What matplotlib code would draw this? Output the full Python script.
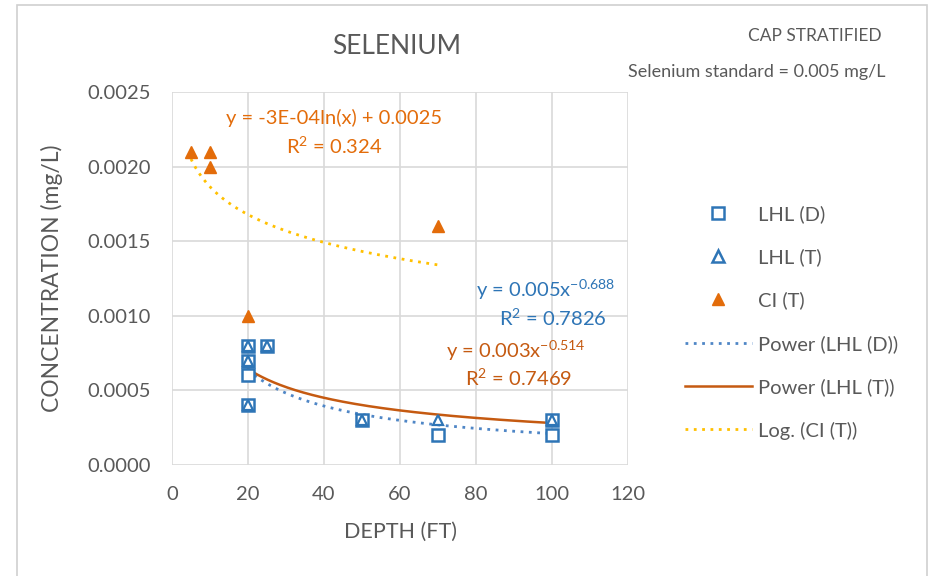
import numpy as np
import matplotlib
matplotlib.use("Agg")
from matplotlib import pyplot as plt
from matplotlib.lines import Line2D
from matplotlib.patches import Rectangle

plt.rcParams['font.family'] = ['Lato', 'DejaVu Sans']
plt.rcParams['mathtext.default'] = 'regular'

# data
lhl_d_depth = [20, 20, 20, 20, 25, 50, 70, 100, 100]
lhl_d_conc = [0.0008, 0.0007, 0.0006, 0.0004, 0.0008, 0.0003, 0.0002, 0.0003, 0.0002]
lhl_t_depth = [20, 20, 20, 25, 50, 70, 100]
lhl_t_conc = [0.0008, 0.0007, 0.0004, 0.0008, 0.0003, 0.0003, 0.0003]
ci_t_depth = [5, 10, 10, 20, 70]
ci_t_conc = [0.0021, 0.0021, 0.0020, 0.0010, 0.0016]

# power trendline coefficients as shown on the chart
pow_d = (0.005, -0.688)
pow_t = (0.003, -0.514)

x_ticks = [0, 20, 40, 60, 80, 100, 120]
y_ticks = [0.0, 0.0005, 0.0010, 0.0015, 0.0020, 0.0025]

blue = '#2E75B6'
orange = '#E36C0A'
brown = '#C55A11'
yellow = '#FFC000'
gray = '#595959'

fig = plt.figure(figsize=(9.34, 5.76), dpi=100)
fig.patches.append(Rectangle((17/934, -0.05), 910/934, 1.05 - 5/576,
                             transform=fig.transFigure, fill=False,
                             ec='#d0d0d0', lw=1.2))
ax = fig.add_axes([172/934, 1 - 465/576, 456/934, 373/576])

# trendlines
k_ci, c_ci = np.polyfit(np.log(ci_t_depth), ci_t_conc, 1)
xd = np.linspace(min(lhl_d_depth), max(lhl_d_depth), 200)
xt = np.linspace(min(lhl_t_depth), max(lhl_t_depth), 200)
xc = np.linspace(min(ci_t_depth), max(ci_t_depth), 200)

ax.plot(xd, pow_d[0] * xd ** pow_d[1], color='#4F86C6', lw=2, ls=(0, (1, 2)), zorder=3)
ax.plot(xt, pow_t[0] * xt ** pow_t[1], color=brown, lw=1.8, zorder=3)
ax.plot(xc, k_ci * np.log(xc) + c_ci, color=yellow, lw=2, ls=(0, (1, 2)), zorder=3)

ax.plot(lhl_d_depth, lhl_d_conc, 's', ms=9, mfc='white', mec=blue, mew=1.8, zorder=4)
ax.plot(lhl_t_depth, lhl_t_conc, '^', ms=7, mfc='white', mec=blue, mew=1.6, zorder=5)
ax.plot(ci_t_depth, ci_t_conc, '^', ms=9, color=orange, zorder=5)

ax.set_xlim(0, 120)
ax.set_ylim(0, 0.0025)
ax.set_xticks(x_ticks)
ax.set_yticks(y_ticks)
ax.set_yticklabels(['%.4f' % v for v in y_ticks])
ax.grid(True, color='#d9d9d9', lw=1.2)
ax.set_axisbelow(True)
for s in ax.spines.values():
    s.set_visible(False)
ax.tick_params(length=0, labelsize=14.5, labelcolor=gray, pad=15)

ax.set_xlabel('DEPTH (FT)', fontsize=15.5, color=gray, labelpad=14)
ax.set_ylabel('CONCENTRATION (mg/L)', fontsize=16.5, color=gray, labelpad=18)

fig.text(397/934, 1 - 47/576, 'SELENIUM', fontsize=19, color=gray,
         ha='center', va='center')
fig.text(815/934, 1 - 36/576, 'CAP STRATIFIED', fontsize=12.5, color=gray,
         ha='center', va='center')
fig.text(757/934, 1 - 72/576, 'Selenium standard = 0.005 mg/L', fontsize=13,
         color=gray, ha='center', va='center')


# trendline labels
def fig_text(px, py, s, c):
    fig.text(px/934, 1 - py/576, s, fontsize=14.5, color=c, ha='center', va='center')


fig_text(334, 118, 'y = -3E-04ln(x) + 0.0025', orange)
fig_text(334, 146, 'R$^2$ = 0.324', orange)
fig_text(546, 290, 'y = 0.005x$^{-0.688}$', blue)
fig_text(553, 318, 'R$^2$ = 0.7826', blue)
fig_text(516, 351, 'y = 0.003x$^{-0.514}$', brown)
fig_text(519, 378, 'R$^2$ = 0.7469', brown)

handles = [
    Line2D([], [], ls='none', marker='s', ms=8, mfc='white', mec=blue, mew=1.8),
    Line2D([], [], ls='none', marker='^', ms=8, mfc='white', mec=blue, mew=1.8),
    Line2D([], [], ls='none', marker='^', ms=8, color=orange),
    Line2D([], [], color='#4F86C6', lw=2, ls=(0, (1, 2))),
    Line2D([], [], color=brown, lw=1.8),
    Line2D([], [], color=yellow, lw=2, ls=(0, (1, 2))),
]
labels = ['LHL (D)', 'LHL (T)', 'CI (T)', 'Power (LHL (D))',
          'Power (LHL (T))', 'Log. (CI (T))']
leg = fig.legend(handles, labels, loc='upper left',
                 bbox_to_anchor=(677/934, 1 - 197/576), frameon=False,
                 fontsize=14.5, handlelength=3.3, handletextpad=0.3,
                 labelspacing=1.26, borderaxespad=0)
for t in leg.get_texts():
    t.set_color(gray)

fig.savefig('out.png', dpi=100)
